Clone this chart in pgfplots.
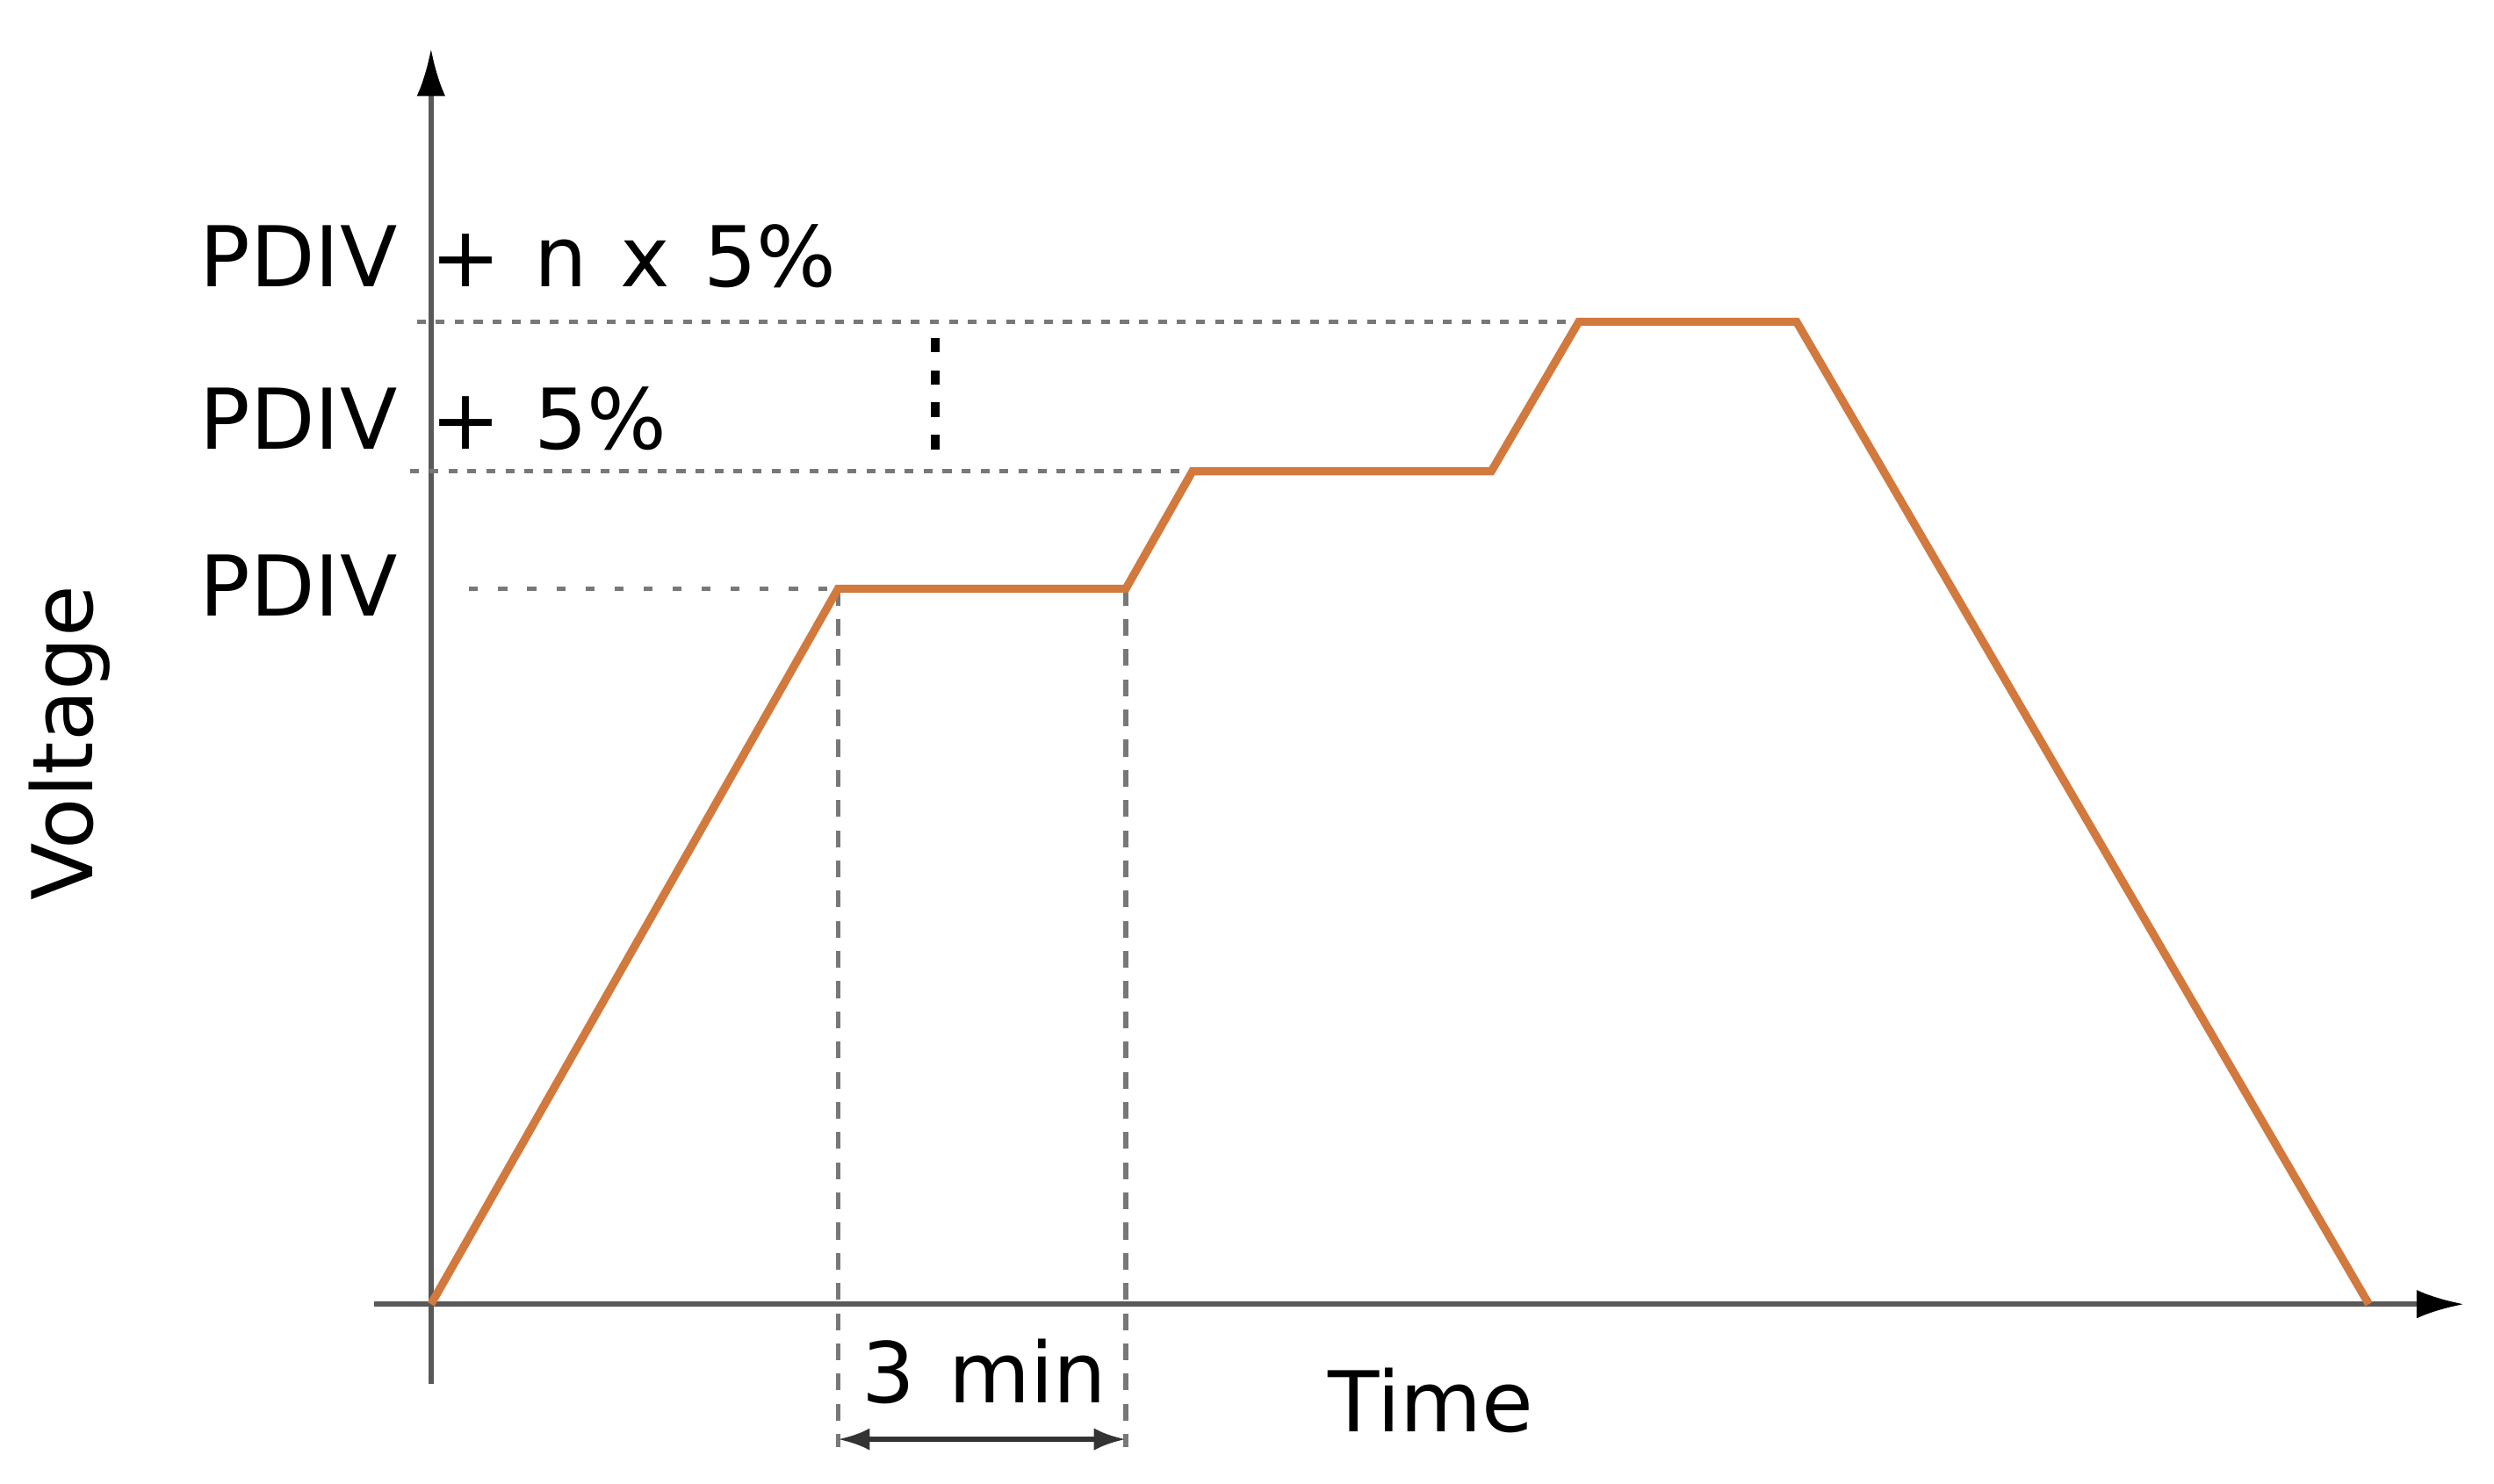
\documentclass[border=0pt]{standalone}
\usepackage{pgfplots}
\pgfplotsset{compat=1.18}
\usepackage{fontspec}
\setmainfont{DejaVu Sans}[WordSpace=1.25]
\usetikzlibrary{arrows.meta}
\definecolor{ramp}{RGB}{210,121,62}
\definecolor{guide}{RGB}{120,120,120}

\begin{document}
\begin{tikzpicture}[font=\fontsize{15}{18}\selectfont]
% page frame, in cm, origin at the axes crossing
\path[use as bounding box] (-2.71,-1.13) rectangle (12.97,8.20);
\begin{axis}[
  anchor=origin, at={(0,0)}, disabledatascaling,
  x=0.01cm, y=0.01cm,
  xmin=-36, xmax=1279, ymin=-50, ymax=790,
  axis lines=middle, ticks=none,
  axis line style={draw=black!65, line width=0.9pt,
    -{Latex[black,length=3mm,width=1.8mm]}},
  clip=false,
]
  % guide lines
  \addplot[guide, line width=0.85pt, dash pattern=on 1.6pt off 3.6pt]
    coordinates {(24,450)(256,450)};
  \addplot[guide, line width=0.85pt, dash pattern=on 1.6pt off 1.8pt]
    coordinates {(-13,524)(479,524)};
  \addplot[guide, line width=0.85pt, dash pattern=on 1.6pt off 1.8pt]
    coordinates {(-9,618)(722,618)};
  \addplot[guide, line width=0.85pt, dash pattern=on 3pt off 2.4pt]
    coordinates {(256,450)(256,-90)};
  \addplot[guide, line width=0.85pt, dash pattern=on 3pt off 2.4pt]
    coordinates {(437,450)(437,-90)};
  \addplot[black, line width=1.6pt, dash pattern=on 2.6pt off 3.2pt]
    coordinates {(317,608)(317,535)};
  \addplot[black!80, line width=0.9pt, {Latex[length=2mm,width=1.4mm]}-{Latex[length=2mm,width=1.4mm]}]
    coordinates {(256,-85)(437,-85)};

  % voltage profile
  \addplot[ramp, line width=1.45pt]
    coordinates {(0,0)(256,450)(437,450)(479,524)(667,524)(722,618)(859,618)(1219,0)};

  \node[anchor=base west, inner sep=0pt] at (axis cs:-146,640) {PDIV + n x 5\%};
  \node[anchor=base west, inner sep=0pt] at (axis cs:-146,538) {PDIV + 5\%};
  \node[anchor=base west, inner sep=0pt] at (axis cs:-146,433) {PDIV};
  \node[anchor=base] at (axis cs:348,-62) {3 min};
  \node[anchor=base] at (axis cs:629,-80) {Time};
  \node[anchor=base, rotate=90] at (axis cs:-213,353) {Voltage};
\end{axis}
\end{tikzpicture}
\end{document}
